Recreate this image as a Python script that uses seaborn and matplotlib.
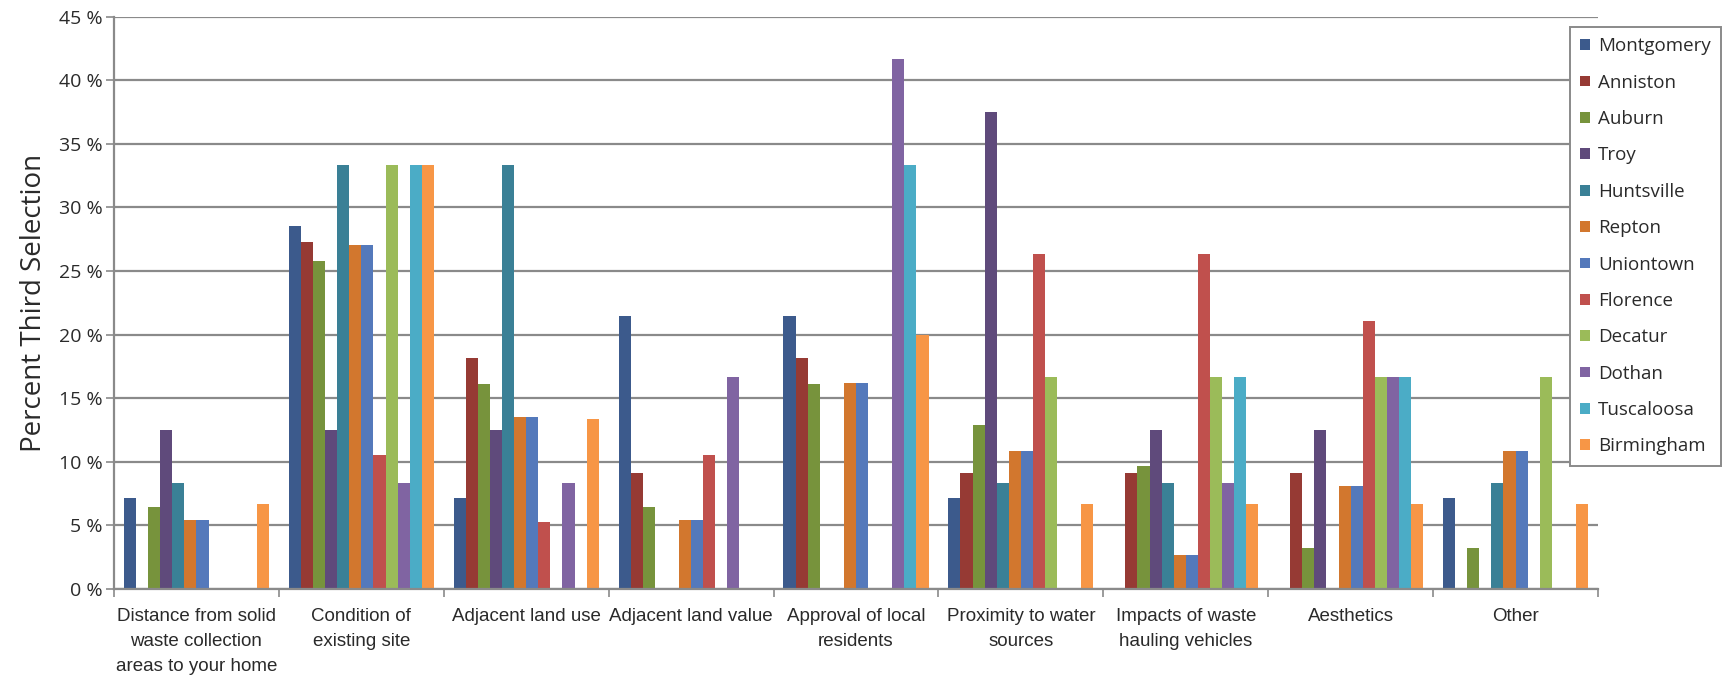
import matplotlib
matplotlib.use("Agg")
import matplotlib.pyplot as plt
from matplotlib.ticker import FixedLocator, FuncFormatter
import seaborn as sns
import pandas as pd
from matplotlib import font_manager

factors = [
    "Distance from solid\nwaste collection\nareas to your home",
    "Condition of\nexisting site",
    "Adjacent land use",
    "Adjacent land value",
    "Approval of local\nresidents",
    "Proximity to water\nsources",
    "Impacts of waste\nhauling vehicles",
    "Aesthetics",
    "Other",
]

cities = ["Montgomery", "Anniston", "Auburn", "Troy", "Huntsville", "Repton",
          "Uniontown", "Florence", "Decatur", "Dothan", "Tuscaloosa", "Birmingham"]

# percent of respondents choosing each factor as third selection
montgomery = [7.14, 28.57, 7.14, 21.43, 21.43, 7.14, 0, 0, 7.14]
anniston   = [0, 27.27, 18.18, 9.09, 18.18, 9.09, 9.09, 9.09, 0]
auburn     = [6.45, 25.81, 16.13, 6.45, 16.13, 12.90, 9.68, 3.23, 3.23]
troy       = [12.5, 12.5, 12.5, 0, 0, 37.5, 12.5, 12.5, 0]
huntsville = [8.33, 33.33, 33.33, 0, 0, 8.33, 8.33, 0, 8.33]
repton     = [5.41, 27.03, 13.51, 5.41, 16.22, 10.81, 2.70, 8.11, 10.81]
uniontown  = [5.41, 27.03, 13.51, 5.41, 16.22, 10.81, 2.70, 8.11, 10.81]
florence   = [0, 10.53, 5.26, 10.53, 0, 26.32, 26.32, 21.05, 0]
decatur    = [0, 33.33, 0, 0, 0, 16.67, 16.67, 16.67, 16.67]
dothan     = [0, 8.33, 8.33, 16.67, 41.67, 0, 8.33, 16.67, 0]
tuscaloosa = [0, 33.33, 0, 0, 33.33, 0, 16.67, 16.67, 0]
birmingham = [6.67, 33.33, 13.33, 0, 20.0, 6.67, 6.67, 6.67, 6.67]

series = [montgomery, anniston, auburn, troy, huntsville, repton,
          uniontown, florence, decatur, dothan, tuscaloosa, birmingham]

colors = ["#3C5A8C", "#963A34", "#77933C", "#5F4A7B", "#3A8096", "#D2772E",
          "#5479BB", "#C0504D", "#9BBB59", "#8064A2", "#4BACC6", "#F79646"]

rows = []
for city, vals in zip(cities, series):
    for factor, v in zip(factors, vals):
        rows.append({"factor": factor, "city": city, "pct": v})
df = pd.DataFrame(rows)

sns.set_theme(style="white")
available = {f.name for f in font_manager.fontManager.ttflist}
narrow = "Liberation Sans Narrow" if "Liberation Sans Narrow" in available else "Liberation Sans"
plt.rcParams["font.family"] = ["Open Sans", "DejaVu Sans"]

W, H = 1722, 679
fig = plt.figure(figsize=(W / 100, H / 100), dpi=100, facecolor="white")
left, right, top, bottom = 114, 1598, 16.5, 589
ax = fig.add_axes([left / W, 1 - bottom / H, (right - left) / W, (bottom - top) / H])

sns.barplot(data=df, x="factor", y="pct", hue="city", order=factors,
            hue_order=cities, palette=colors, width=0.88, linewidth=0,
            saturation=1, ax=ax, legend=True)

ax.set_ylim(0, 45)
ax.set_xlim(-0.5, len(factors) - 0.5)
ax.set_yticks(range(0, 46, 5))
ax.yaxis.set_major_formatter(FuncFormatter(lambda v, p: f"{int(v)} %"))
ax.yaxis.grid(True, color="#8a8a8a", linewidth=1.6)
ax.set_axisbelow(True)

for s in ["top", "right"]:
    ax.spines[s].set_visible(False)
for s in ["left", "bottom"]:
    ax.spines[s].set_color("#8a8a8a")
    ax.spines[s].set_linewidth(1.6)

ax.tick_params(axis="y", which="major", left=True, length=6, width=1.2,
               color="#8a8a8a", labelsize=14, labelcolor="#2a2a2a", pad=2)
ax.tick_params(axis="x", which="major", length=0, pad=14)
ax.xaxis.set_minor_locator(FixedLocator([i - 0.5 for i in range(len(factors) + 1)]))
ax.tick_params(axis="x", which="minor", bottom=True, length=6, width=1.2, color="#8a8a8a")
for lbl in ax.get_xticklabels():
    lbl.set_fontfamily([narrow, "DejaVu Sans"])
    lbl.set_fontsize(13.5)
    lbl.set_color("#2a2a2a")
    lbl.set_linespacing(1.6)
    lbl.set_verticalalignment("top")

ax.set_xlabel("")
ax.set_ylabel("Percent Third Selection", fontsize=20, color="#2a2a2a", labelpad=8)

leg = ax.legend(loc="upper right", bbox_to_anchor=(1721 / W, 1 - 27 / H),
                bbox_transform=fig.transFigure, frameon=True, fancybox=False,
                fontsize=13.5, handlelength=0.5, handleheight=0.5, handletextpad=0.45,
                labelspacing=0.98, borderpad=0.55, borderaxespad=0)
leg.get_frame().set_edgecolor("#8a8a8a")
leg.get_frame().set_linewidth(1.4)
leg.get_frame().set_facecolor("white")
leg.get_frame().set_alpha(1)
for t in leg.get_texts():
    t.set_color("#2a2a2a")

fig.savefig("out.png", dpi=100, facecolor="white")
